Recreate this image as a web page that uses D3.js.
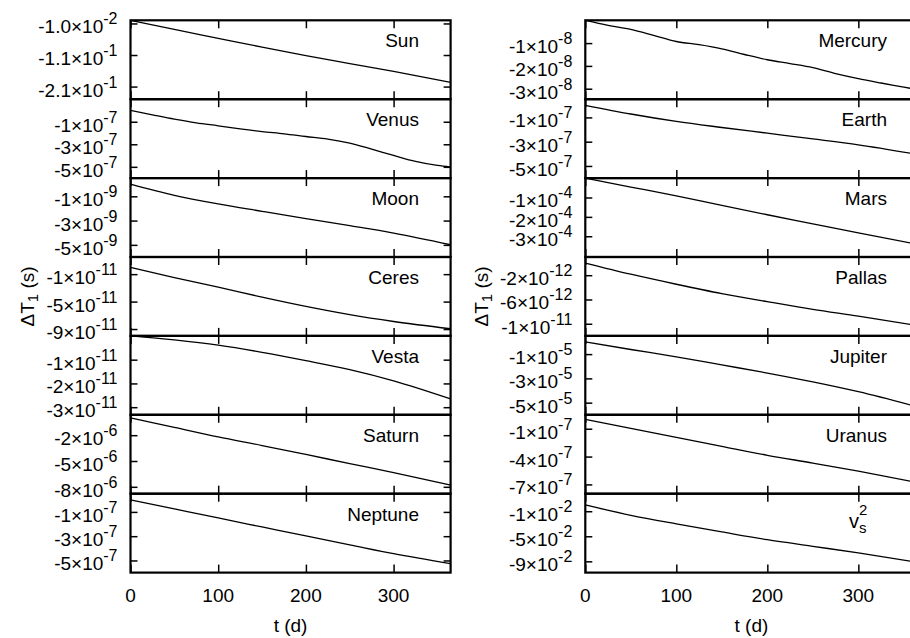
<!DOCTYPE html>
<html>
<head>
<meta charset="utf-8">
<script src="https://cdn.jsdelivr.net/npm/d3@7"></script>
<style>
body { margin: 0; background: #fff; }
text { font-family: 'Liberation Sans', Arial, Helvetica, sans-serif; fill: #000; }
</style>
</head>
<body>
<script>
// time samples, days
var days = [0, 50, 100, 150, 200, 250, 300, 365];
var daysFine = [0, 25, 50, 75, 100, 125, 150, 175, 200, 225, 250, 275, 300, 325, 350, 365];
var xTicks = [0, 100, 200, 300];

// Delta T_1 (s) per body
var sun     = [0, -0.029, -0.057, -0.085, -0.112, -0.137, -0.162, -0.197];
var venus   = [0, -0.39e-7, -0.77e-7, -1.10e-7, -1.36e-7, -1.63e-7, -1.87e-7, -2.07e-7, -2.31e-7,
               -2.54e-7, -2.90e-7, -3.43e-7, -3.99e-7, -4.52e-7, -4.88e-7, -5.02e-7];
var moon    = [0, -0.92e-9, -1.63e-9, -2.24e-9, -2.84e-9, -3.42e-9, -4.03e-9, -4.99e-9];
var ceres   = [0, -1.5e-11, -2.9e-11, -4.35e-11, -5.7e-11, -6.9e-11, -7.9e-11, -8.96e-11];
var vesta   = [0, -0.17e-11, -0.39e-11, -0.69e-11, -1.04e-11, -1.42e-11, -1.89e-11, -2.65e-11];
var saturn  = [0, -1.1e-6, -2.2e-6, -3.2e-6, -4.24e-6, -5.3e-6, -6.34e-6, -7.8e-6];
var neptune = [0, -0.75e-7, -1.5e-7, -2.24e-7, -2.98e-7, -3.71e-7, -4.44e-7, -5.26e-7];

var mercury = [0, -0.22e-8, -0.40e-8, -0.66e-8, -0.93e-8, -1.07e-8, -1.25e-8, -1.50e-8, -1.73e-8,
               -1.90e-8, -2.08e-8, -2.34e-8, -2.56e-8, -2.75e-8, -2.93e-8, -3.04e-8];
var earth   = [0, -0.72e-7, -1.33e-7, -1.83e-7, -2.3e-7, -2.77e-7, -3.26e-7, -4.05e-7];
var mars    = [0, -0.46e-4, -0.92e-4, -1.41e-4, -1.89e-4, -2.36e-4, -2.83e-4, -3.42e-4];
var pallas  = [0, -1.84e-12, -3.49e-12, -5.03e-12, -6.36e-12, -7.63e-12, -8.74e-12, -10.3e-12];
var jupiter = [0, -0.62e-5, -1.22e-5, -1.89e-5, -2.56e-5, -3.29e-5, -4.1e-5, -5.35e-5];
var uranus  = [0, -0.97e-7, -1.93e-7, -2.9e-7, -3.86e-7, -4.7e-7, -5.57e-7, -6.8e-7];
var vs2     = [0, -1.65e-2, -3.02e-2, -4.3e-2, -5.54e-2, -6.6e-2, -7.66e-2, -9.15e-2];

// tick labels of each panel (value is parsed from the label)
var sunTicks     = ['-1.0×10^-2', '-1.1×10^-1', '-2.1×10^-1'];
var venusTicks   = ['-1×10^-7', '-3×10^-7', '-5×10^-7'];
var moonTicks    = ['-1×10^-9', '-3×10^-9', '-5×10^-9'];
var ceresTicks   = ['-1×10^-11', '-5×10^-11', '-9×10^-11'];
var vestaTicks   = ['-1×10^-11', '-2×10^-11', '-3×10^-11'];
var saturnTicks  = ['-2×10^-6', '-5×10^-6', '-8×10^-6'];
var neptuneTicks = ['-1×10^-7', '-3×10^-7', '-5×10^-7'];
var mercuryTicks = ['-1×10^-8', '-2×10^-8', '-3×10^-8'];
var earthTicks   = ['-1×10^-7', '-3×10^-7', '-5×10^-7'];
var marsTicks    = ['-1×10^-4', '-2×10^-4', '-3×10^-4'];
var pallasTicks  = ['-2×10^-12', '-6×10^-12', '-1×10^-11'];
var jupiterTicks = ['-1×10^-5', '-3×10^-5', '-5×10^-5'];
var uranusTicks  = ['-1×10^-7', '-4×10^-7', '-7×10^-7'];
var vs2Ticks     = ['-1×10^-2', '-5×10^-2', '-9×10^-2'];

var leftPanels = [
    {name: 'Sun',     t: days,     v: sun,     dom: [-0.25, 0],           ticks: sunTicks},
    {name: 'Venus',   t: daysFine, v: venus,   dom: [-6e-7, 1e-7],        ticks: venusTicks},
    {name: 'Moon',    t: days,     v: moon,    dom: [-6e-9, 0.5e-9],      ticks: moonTicks},
    {name: 'Ceres',   t: days,     v: ceres,   dom: [-1e-10, 1.5e-11],    ticks: ceresTicks},
    {name: 'Vesta',   t: days,     v: vesta,   dom: [-3.32e-11, 0],       ticks: vestaTicks},
    {name: 'Saturn',  t: days,     v: saturn,  dom: [-8.8e-6, 0.37e-6],   ticks: saturnTicks},
    {name: 'Neptune', t: days,     v: neptune, dom: [-6e-7, 0.5e-7],      ticks: neptuneTicks}
];
var rightPanels = [
    {name: 'Mercury', t: daysFine, v: mercury, dom: [-3.46e-8, 0],        ticks: mercuryTicks},
    {name: 'Earth',   t: days,     v: earth,   dom: [-6e-7, 0.5e-7],      ticks: earthTicks},
    {name: 'Mars',    t: days,     v: mars,    dom: [-4.07e-4, 0],        ticks: marsTicks},
    {name: 'Pallas',  t: days,     v: pallas,  dom: [-1.2e-11, 1e-12],    ticks: pallasTicks},
    {name: 'Jupiter', t: days,     v: jupiter, dom: [-6e-5, 0.5e-5],      ticks: jupiterTicks},
    {name: 'Uranus',  t: days,     v: uranus,  dom: [-8e-7, 0.5e-7],      ticks: uranusTicks},
    {name: 'vs2',     t: days,     v: vs2,     dom: [-0.108, 0.018],      ticks: vs2Ticks}
];

var W = 910, H = 638;
var top0 = 20.3, panelH = 78.9;

var svg = d3.select('body').append('svg')
    .attr('width', W)
    .attr('height', H);

function parseTick(s) {
    var p = s.split('×10^');
    return {value: +p[0] * Math.pow(10, +p[1]), mant: p[0] + '×10', exp: p[1]};
}

function drawColumn(panels, x0, x1, titleX, nameX) {
    var g = svg.append('g');
    var x = d3.scaleLinear().domain([0, 365]).range([x0, x1]);
    var n = panels.length;

    panels.forEach(function (p, i) {
        var top = top0 + i * panelH;
        var bottom = top + panelH;
        var y = d3.scaleLinear().domain(p.dom).range([bottom, top]);
        var ticks = p.ticks.map(parseTick);
        var pg = g.append('g');

        // curve
        var line = d3.line()
            .x(function (d) { return x(d[0]); })
            .y(function (d) { return y(d[1]); })
            .curve(d3.curveMonotoneX);
        pg.append('path')
            .datum(d3.zip(p.t, p.v))
            .attr('d', line)
            .attr('fill', 'none')
            .attr('stroke', '#000')
            .attr('stroke-width', 1.3);

        // inward ticks on all four sides
        var yVals = ticks.map(function (d) { return d.value; });
        var axes = [
            [d3.axisLeft(y).tickValues(yVals), 'translate(' + x0 + ',0)', -7],
            [d3.axisRight(y).tickValues(yVals), 'translate(' + x1 + ',0)', -7],
            [d3.axisTop(x).tickValues(xTicks), 'translate(0,' + top + ')', -8],
            [d3.axisBottom(x).tickValues(xTicks), 'translate(0,' + bottom + ')', -8]
        ];
        axes.forEach(function (a) {
            var ag = pg.append('g')
                .attr('transform', a[1])
                .call(a[0].tickSize(a[2]).tickFormat(''));
            ag.select('.domain').remove();
            ag.selectAll('line').attr('stroke', '#000').attr('stroke-width', 1.5);
        });

        // y tick labels with exponent
        ticks.forEach(function (d) {
            var t = pg.append('text')
                .attr('x', x0 - 13)
                .attr('y', y(d.value) + 10)
                .attr('text-anchor', 'end')
                .attr('font-size', 19);
            t.append('tspan').text(d.mant);
            t.append('tspan')
                .attr('dy', -9)
                .attr('font-size', 16)
                .text(d.exp);
        });

        // frame
        pg.append('rect')
            .attr('x', x0)
            .attr('y', top)
            .attr('width', x1 - x0)
            .attr('height', panelH)
            .attr('fill', 'none')
            .attr('stroke', '#000')
            .attr('stroke-width', 2.2);

        // body name
        if (p.name === 'vs2') {
            // v with stacked subscript s and superscript 2
            var vt = pg.append('text')
                .attr('x', nameX - 38)
                .attr('y', top + 34)
                .attr('font-size', 20);
            vt.append('tspan').text('v');
            vt.append('tspan')
                .attr('x', nameX - 28)
                .attr('dy', -13)
                .attr('font-size', 15)
                .text('2');
            vt.append('tspan')
                .attr('x', nameX - 28)
                .attr('dy', 18)
                .attr('font-size', 15)
                .text('s');
        } else {
            pg.append('text')
                .attr('x', nameX)
                .attr('y', top + 27)
                .attr('text-anchor', 'end')
                .attr('font-size', 19)
                .text(p.name);
        }

        // x tick labels under the last panel
        if (i === n - 1) {
            xTicks.forEach(function (t) {
                pg.append('text')
                    .attr('x', x(t))
                    .attr('y', bottom + 29)
                    .attr('text-anchor', 'middle')
                    .attr('font-size', 19)
                    .text(t);
            });
            pg.append('text')
                .attr('x', (x0 + x1) / 2)
                .attr('y', bottom + 59)
                .attr('text-anchor', 'middle')
                .attr('font-size', 19)
                .text('t (d)');
        }
    });

    // y axis title
    var midY = top0 + n * panelH / 2;
    var tt = g.append('text')
        .attr('transform', 'translate(' + titleX + ',' + midY + ') rotate(-90)')
        .attr('text-anchor', 'middle')
        .attr('font-size', 19);
    tt.append('tspan').text('ΔT');
    tt.append('tspan').attr('dy', 4).attr('font-size', 15).text('1');
    tt.append('tspan').attr('dy', -4).text(' (s)');
}

drawColumn(leftPanels, 130.5, 450.6, 33.5, 419);
drawColumn(rightPanels, 585.3, 917.5, 487.5, 887);
</script>
</body>
</html>
